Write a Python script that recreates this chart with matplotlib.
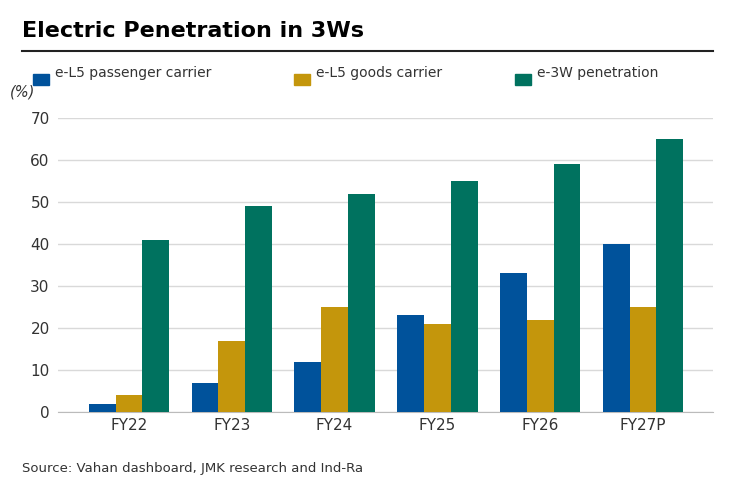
import matplotlib
matplotlib.use("Agg")
import matplotlib.pyplot as plt
import numpy as np
from matplotlib.patches import Rectangle
from matplotlib.lines import Line2D

categories = ["FY22", "FY23", "FY24", "FY25", "FY26", "FY27P"]
passenger = [2, 7, 12, 23, 33, 40]
goods = [4, 17, 25, 21, 22, 25]
penetration = [41, 49, 52, 55, 59, 65]
series_names = ["e-L5 passenger carrier", "e-L5 goods carrier", "e-3W penetration"]
colors = ["#00529B", "#C4960C", "#00725F"]
yticks = [0, 10, 20, 30, 40, 50, 60, 70]

W, H = 735, 490
fig = plt.figure(figsize=(W / 100, H / 100), dpi=100)
ax = fig.add_axes([58 / W, 1 - 412 / H, (713 - 58) / W, (412 - 118) / H])

x = np.arange(len(categories))
bw = 0.26
for i, (vals, c) in enumerate(zip([passenger, goods, penetration], colors)):
    ax.bar(x + (i - 1) * bw, vals, width=bw, color=c, zorder=3)

ax.set_xlim(-0.69, 5.68)
ax.set_ylim(0, 70)
ax.set_yticks(yticks)
ax.set_xticks(x)
ax.set_xticklabels(categories)
ax.grid(axis="y", color="#d9d9d9", linewidth=1, zorder=0)
for s in ["top", "right", "left"]:
    ax.spines[s].set_visible(False)
ax.spines["bottom"].set_color("#bbbbbb")
ax.tick_params(axis="both", length=0, labelsize=11, colors="#333333")
ax.tick_params(axis="y", pad=6)
ax.tick_params(axis="x", pad=4)

fig.text(22 / W, 1 - 31 / H, "Electric Penetration in 3Ws", fontsize=16, fontweight="bold",
         ha="left", va="center", color="black")
fig.add_artist(Line2D([22 / W, 713 / W], [1 - 51 / H, 1 - 51 / H], color="#222222", linewidth=1.5))

leg_x = [33, 294, 515]
for lx, name, c in zip(leg_x, series_names, colors):
    fig.add_artist(Rectangle((lx / W, 1 - 85 / H), 16 / W, 11 / H, color=c, transform=fig.transFigure))
    fig.text((lx + 22) / W, 1 - 73 / H, name, fontsize=10, ha="left", va="center", color="#333333")

fig.text(10 / W, 1 - 92 / H, "(%)", fontsize=10.5, style="italic", ha="left", va="center", color="#333333")
fig.text(22 / W, 1 - 468 / H, "Source: Vahan dashboard, JMK research and Ind-Ra", fontsize=9.5,
         ha="left", va="center", color="#333333")

fig.savefig("out.png", dpi=100)
